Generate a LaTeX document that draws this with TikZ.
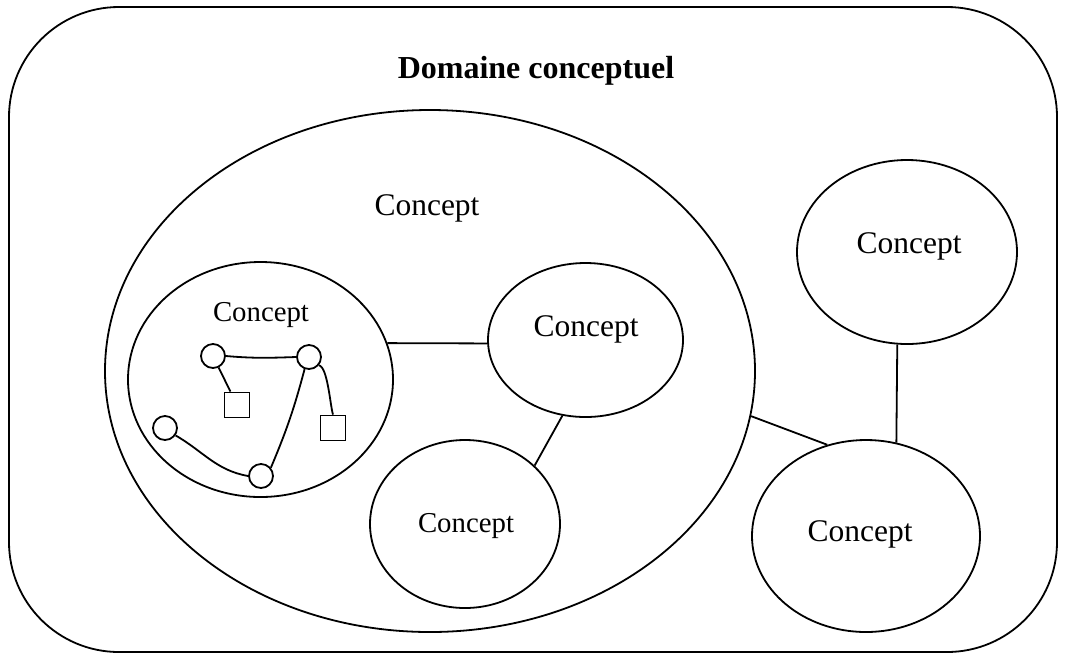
\documentclass[tikz,border=0pt]{standalone}
\usepackage{fontspec}
\setmainfont{Liberation Serif}
\usetikzlibrary{shapes.geometric}

\newcommand{\bigword}{\fontsize{15.75}{18}\selectfont}
\newcommand{\smallword}{\fontsize{14.4}{17}\selectfont}

\begin{document}
\begin{tikzpicture}[x=0.5pt, y=-0.5pt, line width=0.9pt,
    concept/.style={ellipse, draw, inner sep=0pt},
    dot/.style={circle, draw, minimum size=12pt, inner sep=0pt},
    box/.style={rectangle, draw, minimum size=12.5pt, inner sep=0pt},
    word/.style={anchor=base, inner sep=0pt, font=\bigword}]
        \useasboundingbox (0,0) rectangle (1066,655);

        % Domain frame
        \draw[rounded corners=55pt] (9,7) rectangle (1057,652);
        \node[word, font=\bfseries\fontsize{16}{19}\selectfont] (title) at (536,78) {Domaine conceptuel};

        % Concepts
        \node[concept, minimum width=325pt, minimum height=261pt] (big) at (430,371) {};
        \node[concept, minimum width=132.5pt, minimum height=117.5pt] (inner) at (260.5,379.5) {};
        \node[concept, minimum width=97.5pt, minimum height=77pt] (mid) at (585.5,340) {};
        \node[concept, minimum width=95pt, minimum height=84pt] (low) at (465,524) {};
        \node[concept, minimum width=110pt, minimum height=92pt] (tr) at (907,252) {};
        \node[concept, minimum width=114pt, minimum height=96pt] (br) at (866,536) {};

        % Labels
        \node[word] (bigtxt) at (427,215) {Concept};
        \node[word, font=\smallword] (innertxt) at (261,321) {Concept};
        \node[word] (midtxt) at (586,336) {Concept};
        \node[word, font=\smallword] (lowtxt) at (466,532) {Concept};
        \node[word] (trtxt) at (909,253) {Concept};
        \node[word] (brtxt) at (860,541) {Concept};

        % Links between concepts
        \draw (inner.16) -- (mid.182);
        \draw (mid.253) -- (low.40);
        \draw (big.-8) -- (br.113);
        \draw (tr.264) -- (br.72);

        % Small graph inside the concept
        \node[dot] (a) at (213,356) {};
        \node[dot] (b) at (309,357) {};
        \node[dot] (c) at (165,428) {};
        \node[dot] (d) at (261,476) {};
        \node[box] (e) at (237,405) {};
        \node[box] (f) at (333,428) {};

        \draw (a.east) to[out=-5,in=182] (b.west);
        \draw (a) -- (e);
        \draw (b.-40) to[out=-10,in=108,looseness=0.45] (f.north);
        \draw (b.-110) to[bend left=4] (d.40);
        \draw (c.-35) to[out=-30,in=170] (d.west);

    \end{tikzpicture}
\end{document}
